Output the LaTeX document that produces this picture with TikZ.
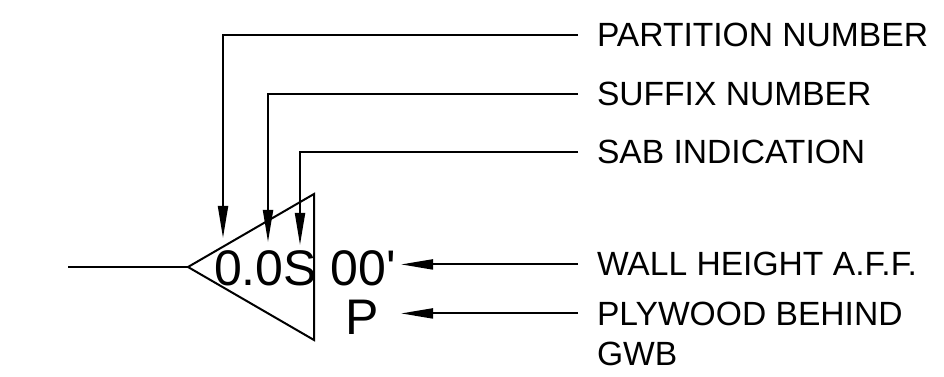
\documentclass[tikz,border=0pt]{standalone}
\usepackage{fontspec}
\newfontfamily\arialf{Liberation Sans}
\usetikzlibrary{arrows.meta}
\begin{document}
\begin{tikzpicture}[x=0.75pt,y=-0.75pt,line width=1.5pt,
  lead/.style={-{Triangle[length=24pt,width=7.5pt]}},
  lab/.style={anchor=base west,inner sep=0pt,font=\arialf\fontsize{25.2}{30}\selectfont},
  big/.style={anchor=base west,inner sep=0pt,font=\arialf\fontsize{37.5}{40}\selectfont}]
\useasboundingbox (0,0) rectangle (944,377);
% wall tag
\coordinate (wend) at (68,267);
\coordinate (apex) at (188,267);
\coordinate (tr) at (314,194);
\coordinate (br) at (314,340);
\draw (wend) -- (apex);
\draw[line join=miter] (apex) -- (tr) -- (br) -- cycle;
% texts in tag
\node[big] (code) at (213,286) {0.0S 00'};
\node[big] (pl) at (344,334) {P};
% labels
\node[lab] (l1) at (596,47) {PARTITION NUMBER};
\node[lab] (l2) at (596,106) {SUFFIX NUMBER};
\node[lab] (l3) at (596,164) {SAB INDICATION};
\node[lab] (l4) at (596,276) {WALL HEIGHT A.F.F.};
\node[lab] (l5) at (596,325) {PLYWOOD BEHIND};
\node[lab] (l5b) at (596,365) {GWB};
% arrow tips
\coordinate (t1) at (223,238);
\coordinate (t2) at (268,242);
\coordinate (t3) at (300,245);
\coordinate (t4) at (401,266);
% leaders
\draw[lead] ([xshift=-13.5pt]l1.west) -| (t1);
\draw[lead] ([xshift=-13.5pt]l2.west) -| (t2);
\draw[lead] ([xshift=-13.5pt]l3.west) -| (t3);
\draw[lead] ([xshift=-13.5pt]l4.west) -- (l4.west -| t4);
\draw[lead] ([xshift=-13.5pt]l5.west) -- (l5.west -| t4);
\end{tikzpicture}
\end{document}
